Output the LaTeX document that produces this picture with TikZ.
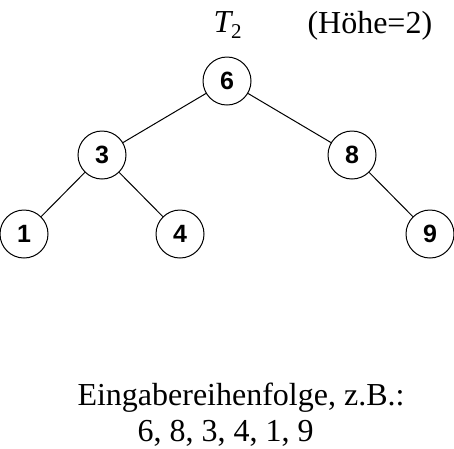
\documentclass[tikz,border=0pt]{standalone}
\usepackage{fontspec}
\setmainfont{Liberation Serif}
\newfontfamily\arialfont{Liberation Sans}
\usetikzlibrary{positioning}

\begin{document}
\begin{tikzpicture}
        [x=1pt,y=1pt,line width=1pt,
        level 1/.style={sibling distance = 250pt,level distance = 74pt},
        level 2/.style={sibling distance = 156pt,level distance = 79pt},
        a/.style={circle,draw,minimum size=48pt,inner sep=0pt,font=\arialfont\bfseries\fontsize{25}{30}\selectfont},
        t/.style={anchor=base west,inner sep=0pt,font=\fontsize{32}{38}\selectfont}]
        \useasboundingbox (0,0) rectangle (454,-448);
        \node[a] (n6) at (227,-81) {6}
        child{node[a] (n3) {3}
            child{node[a] (n1) {1}}
            child{node[a] (n4) {4}}
        }
        child{node[a] (n8) {8}
            child[missing]
            child{node[a] (n9) {9}}
        };
        \node[t] (tname) at (213,-32) {\textit{T}\kern-2pt\raisebox{-6pt}{\fontsize{21}{21}\selectfont 2}};
        \node[t] (hoehe) at (307,-33) {(Höhe=2)};
        \node[t] (eingabe) at (77,-405) {Eingabereihenfolge, z.B.:};
        \node[t] (folge) at (137,-441) {6, 8, 3, 4, 1, 9};
\end{tikzpicture}
\end{document}
